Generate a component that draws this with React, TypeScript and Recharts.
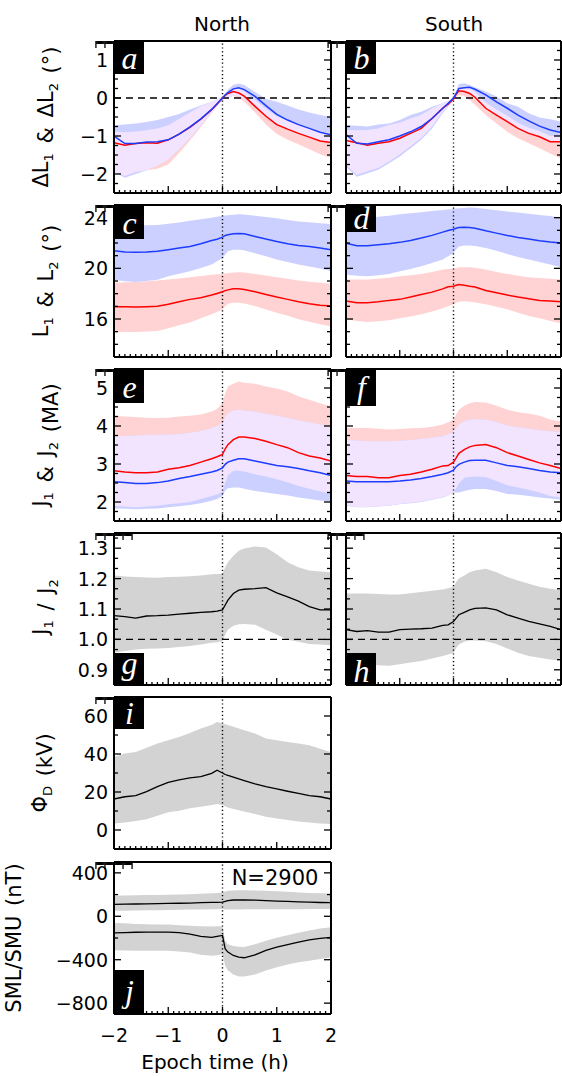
import React from "react";
import { Area, ComposedChart, Line, ReferenceLine, XAxis, YAxis } from "recharts";

// epoch time (h)
const T = [-2, -1.8, -1.6, -1.4, -1.2, -1, -0.8, -0.6, -0.4, -0.2, -0.1, 0, 0.05, 0.1, 0.2, 0.3, 0.4, 0.6, 0.8, 1, 1.2, 1.4, 1.6, 1.8, 2];

// a: North dL1 (red) / dL2 (blue)
const dlNR = [-1.18, -1.24, -1.2, -1.18, -1.19, -1.1, -0.95, -0.77, -0.56, -0.31, -0.16, 0, 0.07, 0.12, 0.17, 0.13, 0.05, -0.22, -0.48, -0.7, -0.82, -0.93, -1.03, -1.13, -1.17];
const dlNRlo = [-1.95, -2.05, -1.95, -1.9, -1.86, -1.75, -1.45, -1.12, -0.76, -0.4, -0.22, -0.05, 0, 0.02, 0.05, 0, -0.1, -0.38, -0.7, -0.95, -1.1, -1.22, -1.35, -1.48, -1.58];
const dlNRhi = [-0.88, -0.9, -0.88, -0.85, -0.8, -0.72, -0.55, -0.38, -0.22, -0.1, -0.04, 0.03, 0.1, 0.17, 0.25, 0.25, 0.18, -0.05, -0.28, -0.48, -0.6, -0.7, -0.8, -0.88, -0.92];
const dlNB = [-1.0, -1.2, -1.2, -1.16, -1.15, -1.1, -0.95, -0.76, -0.55, -0.3, -0.15, 0, 0.08, 0.14, 0.24, 0.27, 0.22, 0.04, -0.2, -0.43, -0.58, -0.7, -0.8, -0.9, -0.97];
const dlNBlo = [-1.95, -2.1, -2.0, -1.9, -1.78, -1.62, -1.35, -1.05, -0.72, -0.38, -0.2, -0.03, 0, 0.02, 0.06, 0.05, -0.03, -0.2, -0.45, -0.67, -0.8, -0.92, -1.02, -1.12, -1.18];
const dlNBhi = [-0.72, -0.7, -0.67, -0.63, -0.58, -0.5, -0.42, -0.3, -0.2, -0.1, -0.04, 0.02, 0.12, 0.22, 0.35, 0.38, 0.34, 0.16, -0.02, -0.1, -0.2, -0.3, -0.38, -0.45, -0.5];

// b: South dL1 / dL2
const dlSR = [-1.12, -1.18, -1.24, -1.19, -1.15, -1.06, -0.93, -0.8, -0.54, -0.27, -0.16, -0.03, 0.1, 0.19, 0.17, 0.12, 0.02, -0.27, -0.45, -0.62, -0.8, -0.93, -1.02, -1.15, -1.15];
const dlSRlo = [-1.76, -2.02, -1.93, -1.84, -1.67, -1.49, -1.27, -1.05, -0.75, -0.36, -0.2, -0.05, 0.03, 0.08, 0.05, -0.05, -0.18, -0.45, -0.67, -0.89, -1.06, -1.19, -1.32, -1.46, -1.59];
const dlSRhi = [-0.84, -0.85, -0.84, -0.8, -0.71, -0.65, -0.54, -0.45, -0.27, -0.14, -0.08, 0, 0.18, 0.3, 0.3, 0.26, 0.16, -0.12, -0.3, -0.47, -0.65, -0.78, -0.87, -1.0, -1.0];
const dlSB = [-0.96, -1.19, -1.21, -1.15, -1.1, -1.0, -0.89, -0.75, -0.54, -0.27, -0.14, 0, 0.12, 0.25, 0.27, 0.28, 0.23, 0.08, -0.1, -0.27, -0.45, -0.6, -0.74, -0.84, -0.91];
const dlSBlo = [-1.81, -2.07, -1.98, -1.89, -1.72, -1.54, -1.32, -1.1, -0.8, -0.4, -0.23, -0.05, 0.1, 0.2, 0.19, 0.14, 0.04, -0.25, -0.43, -0.6, -0.78, -0.91, -1.0, -1.13, -1.13];
const dlSBhi = [-0.71, -0.73, -0.75, -0.7, -0.67, -0.58, -0.45, -0.36, -0.23, -0.14, -0.08, 0, 0.2, 0.37, 0.39, 0.34, 0.28, 0.17, 0.04, -0.14, -0.23, -0.4, -0.51, -0.56, -0.62];

// c: North L1 / L2
const lNR = [16.97, 16.96, 16.95, 16.97, 17.0, 17.16, 17.37, 17.55, 17.68, 17.89, 18.02, 18.15, 18.24, 18.3, 18.38, 18.38, 18.33, 18.15, 17.94, 17.73, 17.55, 17.37, 17.21, 17.08, 17.03];
const lNRlo = [15.0, 14.98, 14.98, 15.02, 15.06, 15.27, 15.5, 15.72, 16.05, 16.37, 16.55, 16.76, 17.0, 17.2, 17.29, 17.29, 17.22, 17.03, 16.75, 16.5, 16.25, 15.98, 15.78, 15.59, 15.4];
const lNRhi = [18.86, 18.9, 18.93, 18.98, 19.04, 19.12, 19.2, 19.3, 19.4, 19.5, 19.53, 19.56, 19.6, 19.64, 19.68, 19.7, 19.68, 19.56, 19.43, 19.3, 19.17, 19.04, 18.95, 18.86, 18.78];
const lNB = [21.39, 21.29, 21.26, 21.29, 21.34, 21.47, 21.6, 21.73, 21.94, 22.2, 22.3, 22.46, 22.6, 22.65, 22.73, 22.75, 22.73, 22.52, 22.31, 22.12, 21.94, 21.81, 21.73, 21.6, 21.47];
const lNBlo = [19.1, 18.98, 18.93, 19.0, 19.1, 19.38, 19.58, 19.77, 20.02, 20.3, 20.55, 20.8, 21.1, 21.34, 21.47, 21.47, 21.42, 21.2, 20.95, 20.69, 20.5, 20.3, 20.15, 19.98, 19.77];
const lNBhi = [23.3, 23.35, 23.38, 23.4, 23.43, 23.51, 23.62, 23.75, 23.88, 24.0, 24.08, 24.16, 24.18, 24.2, 24.24, 24.27, 24.25, 24.16, 24.05, 23.95, 23.82, 23.7, 23.63, 23.56, 23.5];

// d: South L1 / L2
const lSR = [17.42, 17.29, 17.29, 17.37, 17.47, 17.55, 17.73, 17.94, 18.12, 18.38, 18.54, 18.59, 18.67, 18.72, 18.67, 18.59, 18.52, 18.25, 18.07, 17.89, 17.73, 17.6, 17.47, 17.42, 17.37];
const lSRlo = [15.98, 15.85, 15.77, 15.83, 15.9, 16.06, 16.2, 16.37, 16.6, 16.84, 17.0, 17.16, 17.28, 17.37, 17.4, 17.37, 17.3, 17.16, 16.96, 16.76, 16.5, 16.24, 16.05, 15.85, 15.67];
const lSRhi = [19.12, 19.12, 19.12, 19.18, 19.25, 19.38, 19.46, 19.56, 19.72, 19.9, 19.94, 19.98, 20.03, 20.08, 20.08, 20.08, 20.04, 19.9, 19.72, 19.56, 19.42, 19.3, 19.23, 19.17, 19.12];
const lSB = [21.99, 21.78, 21.78, 21.86, 21.94, 22.05, 22.2, 22.39, 22.6, 22.86, 22.99, 23.09, 23.17, 23.22, 23.25, 23.22, 23.17, 22.96, 22.78, 22.6, 22.44, 22.31, 22.18, 22.07, 21.99];
const lSBlo = [19.5, 19.42, 19.38, 19.45, 19.56, 19.77, 19.95, 20.16, 20.42, 20.69, 20.95, 21.2, 21.5, 21.73, 21.81, 21.81, 21.76, 21.6, 21.38, 21.13, 20.9, 20.69, 20.5, 20.3, 20.08];
const lSBhi = [23.95, 23.98, 24.0, 24.08, 24.16, 24.27, 24.35, 24.42, 24.52, 24.6, 24.65, 24.69, 24.72, 24.74, 24.77, 24.8, 24.78, 24.69, 24.58, 24.48, 24.4, 24.3, 24.22, 24.14, 24.0];

// e: North J1 / J2 (MA)
const jNR = [2.82, 2.79, 2.77, 2.77, 2.79, 2.86, 2.9, 2.96, 3.05, 3.14, 3.19, 3.25, 3.4, 3.51, 3.64, 3.71, 3.71, 3.67, 3.6, 3.51, 3.43, 3.3, 3.21, 3.16, 3.08];
const jNRlo = [1.9, 1.88, 1.86, 1.88, 1.9, 1.94, 1.97, 2.0, 2.08, 2.16, 2.2, 2.27, 2.5, 2.7, 2.82, 2.82, 2.8, 2.73, 2.67, 2.6, 2.52, 2.42, 2.35, 2.28, 2.21];
const jNRhi = [4.27, 4.25, 4.24, 4.22, 4.21, 4.22, 4.25, 4.27, 4.3, 4.38, 4.45, 4.6, 4.86, 5.04, 5.11, 5.17, 5.14, 5.11, 5.04, 4.99, 4.91, 4.78, 4.69, 4.6, 4.52];
const jNB = [2.53, 2.51, 2.49, 2.49, 2.51, 2.55, 2.62, 2.67, 2.73, 2.79, 2.83, 2.9, 2.99, 3.05, 3.1, 3.14, 3.14, 3.08, 3.02, 2.96, 2.93, 2.88, 2.82, 2.77, 2.7];
const jNBlo = [1.83, 1.82, 1.81, 1.82, 1.83, 1.86, 1.89, 1.92, 1.97, 2.03, 2.08, 2.16, 2.3, 2.36, 2.38, 2.38, 2.35, 2.29, 2.25, 2.21, 2.17, 2.12, 2.08, 2.04, 2.01];
const jNBhi = [3.73, 3.74, 3.75, 3.76, 3.77, 3.77, 3.79, 3.82, 3.87, 3.95, 4.0, 4.08, 4.25, 4.34, 4.41, 4.43, 4.41, 4.38, 4.32, 4.27, 4.21, 4.15, 4.1, 4.04, 4.01];

// f: South J1 / J2 (MA)
const jSR = [2.7, 2.67, 2.67, 2.64, 2.64, 2.7, 2.73, 2.79, 2.86, 2.95, 2.96, 3.05, 3.16, 3.28, 3.38, 3.45, 3.49, 3.51, 3.43, 3.3, 3.21, 3.12, 3.03, 2.96, 2.88];
const jSRlo = [1.91, 1.87, 1.87, 1.89, 1.91, 1.95, 1.98, 2.01, 2.07, 2.13, 2.18, 2.26, 2.36, 2.49, 2.64, 2.66, 2.67, 2.66, 2.55, 2.44, 2.38, 2.32, 2.25, 2.16, 2.12];
const jSRhi = [3.95, 3.95, 3.95, 3.93, 3.91, 3.92, 3.94, 3.95, 3.98, 4.04, 4.1, 4.17, 4.3, 4.43, 4.53, 4.6, 4.63, 4.62, 4.53, 4.43, 4.36, 4.33, 4.27, 4.17, 4.12];
const jSB = [2.55, 2.53, 2.53, 2.53, 2.53, 2.55, 2.58, 2.62, 2.67, 2.73, 2.77, 2.84, 2.93, 2.99, 3.05, 3.09, 3.1, 3.1, 3.03, 2.96, 2.93, 2.88, 2.83, 2.79, 2.77];
const jSBlo = [1.9, 1.86, 1.86, 1.88, 1.9, 1.94, 1.97, 2.0, 2.06, 2.12, 2.17, 2.25, 2.25, 2.25, 2.29, 2.32, 2.34, 2.34, 2.29, 2.21, 2.19, 2.16, 2.12, 2.09, 2.06];
const jSBhi = [3.64, 3.62, 3.6, 3.6, 3.6, 3.61, 3.63, 3.66, 3.7, 3.73, 3.78, 3.86, 3.95, 4.04, 4.12, 4.17, 4.18, 4.17, 4.1, 4.01, 3.97, 3.93, 3.89, 3.86, 3.84];

// g, h: J1 / J2
const rN = [1.078, 1.075, 1.07, 1.077, 1.078, 1.08, 1.083, 1.086, 1.089, 1.091, 1.093, 1.097, 1.113, 1.129, 1.151, 1.162, 1.165, 1.167, 1.17, 1.153, 1.14, 1.126, 1.108, 1.097, 1.097];
const rNlo = [0.956, 0.962, 0.967, 0.969, 0.97, 0.972, 0.975, 0.978, 0.983, 0.989, 0.991, 0.994, 1.016, 1.032, 1.045, 1.05, 1.051, 1.048, 1.032, 1.016, 0.999, 0.992, 0.985, 0.983, 0.981];
const rNhi = [1.21, 1.207, 1.205, 1.204, 1.203, 1.205, 1.206, 1.208, 1.21, 1.214, 1.215, 1.216, 1.237, 1.254, 1.275, 1.292, 1.299, 1.306, 1.302, 1.28, 1.254, 1.237, 1.227, 1.223, 1.221];
const rS = [1.032, 1.026, 1.029, 1.024, 1.024, 1.032, 1.034, 1.035, 1.037, 1.046, 1.048, 1.059, 1.07, 1.081, 1.089, 1.097, 1.102, 1.104, 1.097, 1.081, 1.07, 1.059, 1.051, 1.043, 1.032];
const rSlo = [0.929, 0.924, 0.918, 0.915, 0.913, 0.918, 0.924, 0.929, 0.937, 0.945, 0.95, 0.956, 0.972, 0.983, 0.992, 0.996, 0.996, 0.994, 0.985, 0.97, 0.956, 0.945, 0.94, 0.934, 0.931];
const rShi = [1.151, 1.151, 1.151, 1.149, 1.148, 1.148, 1.152, 1.156, 1.16, 1.164, 1.168, 1.173, 1.189, 1.2, 1.21, 1.221, 1.227, 1.232, 1.221, 1.205, 1.194, 1.183, 1.173, 1.167, 1.162];

// i: Phi_D (kV)
const phi = [16.3, 17.5, 18.1, 20.2, 22.8, 25.1, 26.4, 27.4, 28.1, 29.8, 31.5, 30.0, 29.2, 28.7, 27.8, 26.9, 26.0, 24.3, 22.8, 21.6, 20.4, 19.3, 18.1, 17.5, 16.3];
const phiLo = [3.4, 4.0, 4.8, 5.7, 7.5, 9.3, 10.1, 11.5, 12.3, 13.1, 13.7, 13.1, 12.5, 11.9, 11.0, 10.4, 9.8, 8.4, 7.0, 6.1, 5.2, 4.5, 4.0, 3.4, 3.1];
const phiHi = [38.4, 40.2, 41.0, 43.3, 45.5, 47.2, 49.0, 51.1, 53.4, 55.2, 56.9, 56.0, 55.6, 55.2, 54.3, 53.4, 52.5, 50.8, 48.1, 47.2, 46.3, 45.5, 44.6, 42.8, 41.0];

// j: SMU / SML (nT)
const smu = [110, 112, 113, 115, 116, 118, 120, 122, 125, 128, 129, 130, 138, 145, 150, 150, 150, 148, 145, 140, 137, 133, 130, 127, 125];
const smuLo = [50, 52, 53, 55, 56, 58, 60, 62, 63, 64, 65, 66, 62, 62, 62, 63, 64, 64, 64, 64, 65, 65, 66, 67, 68];
const smuHi = [190, 192, 193, 195, 197, 198, 200, 203, 207, 212, 215, 218, 228, 235, 238, 240, 240, 238, 235, 230, 225, 220, 215, 212, 210];
const sml = [-152, -150, -147, -145, -145, -145, -150, -164, -185, -194, -185, -176, -300, -330, -361, -376, -382, -355, -315, -285, -261, -239, -218, -203, -194];
const smlLo = [-312, -315, -318, -318, -318, -318, -325, -333, -355, -364, -358, -348, -455, -500, -536, -555, -555, -536, -500, -470, -445, -424, -409, -394, -379];
const smlHi = [-61, -65, -70, -73, -75, -76, -82, -88, -91, -93, -92, -91, -227, -258, -273, -280, -282, -258, -225, -197, -175, -152, -130, -112, -100];

// tick labels
const xTicks = [-2, -1, 0, 1, 2];
const xTickLabels = ["\u22122", "\u22121", "0", "1", "2"];
const dlTicks = [-2, -1, 0, 1];
const dlTickLabels = ["\u22122", "\u22121", "0", "1"];
const lTicks = [16, 20, 24];
const lTickLabels = ["16", "20", "24"];
const jTicks = [2, 3, 4, 5];
const jTickLabels = ["2", "3", "4", "5"];
const rTicks = [0.9, 1.0, 1.1, 1.2, 1.3];
const rTickLabels = ["0.9", "1.0", "1.1", "1.2", "1.3"];
const phiTicks = [0, 20, 40, 60];
const phiTickLabels = ["0", "20", "40", "60"];
const smTicks = [-800, -400, 0, 400];
const smTickLabels = ["\u2212800", "\u2212400", "0", "400"];

const RED = "#ff0000";
const BLUE = "#1c3cff";
const PINK = "#ffd3d3";
const LBLUE = "#ccd0ff";
const LAV = "#f2e4ff";
const GRAY = "#d3d3d3";
const FONT = "DejaVu Sans, Verdana, sans-serif";
const SERIF = "Liberation Serif, DejaVu Serif, serif";

const steps = (lo: number, hi: number, step: number) => {
  const out: number[] = [];
  for (let k = Math.ceil(lo / step - 1e-9); k * step <= hi + 1e-9; k++) out.push(+(k * step).toFixed(6));
  return out;
};

const overlap = (lo1: number[], hi1: number[], lo2: number[], hi2: number[]) => {
  const lo = lo1.map((v, i) => Math.max(v, lo2[i]));
  const hi = hi1.map((v, i) => Math.max(lo[i], Math.min(v, hi2[i])));
  return { lo, hi, fill: LAV };
};

type BandCfg = { lo: number[]; hi: number[]; fill: string };
type LineCfg = { m: number[]; c: string; w: number };
type PanelCfg = {
  x: number;
  y: number;
  w: number;
  h: number;
  dom: [number, number];
  major: number[];
  majorLabels: string[];
  minor: number;
  showLabels: boolean;
  bands: BandCfg[];
  lines: LineCfg[];
  hLine?: number;
  xLabels?: boolean;
};

const NX = 114;
const NW = 217;
const SX = 346;
const SW = 215;
const H = 152;
const TOPS = [41, 205, 369, 533, 697, 862];

const redBlue = (rlo: number[], rhi: number[], blo: number[], bhi: number[]): BandCfg[] => [
  { lo: rlo, hi: rhi, fill: PINK },
  { lo: blo, hi: bhi, fill: LBLUE },
  overlap(rlo, rhi, blo, bhi),
];

const panels: PanelCfg[] = [
  {
    x: NX, y: TOPS[0], w: NW, h: H, dom: [-2.5, 1.5], major: dlTicks, majorLabels: dlTickLabels, minor: 0.25, showLabels: true,
    bands: redBlue(dlNRlo, dlNRhi, dlNBlo, dlNBhi),
    lines: [{ m: dlNR, c: RED, w: 1.5 }, { m: dlNB, c: BLUE, w: 1.5 }],
    hLine: 0,
  },
  {
    x: SX, y: TOPS[0], w: SW, h: H, dom: [-2.5, 1.5], major: dlTicks, majorLabels: dlTickLabels, minor: 0.25, showLabels: false,
    bands: redBlue(dlSRlo, dlSRhi, dlSBlo, dlSBhi),
    lines: [{ m: dlSR, c: RED, w: 1.5 }, { m: dlSB, c: BLUE, w: 1.5 }],
    hLine: 0,
  },
  {
    x: NX, y: TOPS[1], w: NW, h: H, dom: [13, 25], major: lTicks, majorLabels: lTickLabels, minor: 1, showLabels: true,
    bands: redBlue(lNRlo, lNRhi, lNBlo, lNBhi),
    lines: [{ m: lNR, c: RED, w: 1.5 }, { m: lNB, c: BLUE, w: 1.5 }],
  },
  {
    x: SX, y: TOPS[1], w: SW, h: H, dom: [13, 25], major: lTicks, majorLabels: lTickLabels, minor: 1, showLabels: false,
    bands: redBlue(lSRlo, lSRhi, lSBlo, lSBhi),
    lines: [{ m: lSR, c: RED, w: 1.5 }, { m: lSB, c: BLUE, w: 1.5 }],
  },
  {
    x: NX, y: TOPS[2], w: NW, h: H, dom: [1.5, 5.5], major: jTicks, majorLabels: jTickLabels, minor: 0.25, showLabels: true,
    bands: redBlue(jNRlo, jNRhi, jNBlo, jNBhi),
    lines: [{ m: jNR, c: RED, w: 1.5 }, { m: jNB, c: BLUE, w: 1.5 }],
  },
  {
    x: SX, y: TOPS[2], w: SW, h: H, dom: [1.5, 5.5], major: jTicks, majorLabels: jTickLabels, minor: 0.25, showLabels: false,
    bands: redBlue(jSRlo, jSRhi, jSBlo, jSBhi),
    lines: [{ m: jSR, c: RED, w: 1.5 }, { m: jSB, c: BLUE, w: 1.5 }],
  },
  {
    x: NX, y: TOPS[3], w: NW, h: H, dom: [0.85, 1.35], major: rTicks, majorLabels: rTickLabels, minor: 1 / 30, showLabels: true,
    bands: [{ lo: rNlo, hi: rNhi, fill: GRAY }],
    lines: [{ m: rN, c: "#000", w: 1.3 }],
    hLine: 1,
  },
  {
    x: SX, y: TOPS[3], w: SW, h: H, dom: [0.85, 1.35], major: rTicks, majorLabels: rTickLabels, minor: 1 / 30, showLabels: false,
    bands: [{ lo: rSlo, hi: rShi, fill: GRAY }],
    lines: [{ m: rS, c: "#000", w: 1.3 }],
    hLine: 1,
  },
  {
    x: NX, y: TOPS[4], w: NW, h: H, dom: [-10, 70], major: phiTicks, majorLabels: phiTickLabels, minor: 10, showLabels: true,
    bands: [{ lo: phiLo, hi: phiHi, fill: GRAY }],
    lines: [{ m: phi, c: "#000", w: 1.3 }],
  },
  {
    x: NX, y: TOPS[5], w: NW, h: H, dom: [-900, 500], major: smTicks, majorLabels: smTickLabels, minor: 200, showLabels: true,
    bands: [{ lo: smuLo, hi: smuHi, fill: GRAY }, { lo: smlLo, hi: smlHi, fill: GRAY }],
    lines: [{ m: smu, c: "#000", w: 1.3 }, { m: sml, c: "#000", w: 1.3 }],
    xLabels: true,
  },
];

const near = (a: number, b: number) => Math.abs(a - b) < 1e-6;

function Panel({ p }: { p: PanelCfg }) {
  const bottomH = p.xLabels ? 60 : 1;
  const rows = T.map((t, i) => {
    const r: Record<string, unknown> = { t };
    p.bands.forEach((b, k) => (r["b" + k] = [b.lo[i], b.hi[i]]));
    p.lines.forEach((l, k) => (r["m" + k] = l.m[i]));
    return r;
  });
  const yTicks = steps(p.dom[0], p.dom[1], p.minor).filter((v) => v > p.dom[0] + 1e-6 && v < p.dom[1] - 1e-6);
  const xMinor = steps(-2, 2, 0.1);
  const majIdx = (v: number) => p.major.findIndex((m) => near(m, v));
  const xMaj = (v: number) => xTicks.findIndex((m) => near(m, v));

  const leftTick = (props: any) => {
    const { x, y, payload } = props;
    const k = majIdx(payload.value);
    return (
      <g>
        <line x1={x} x2={x + (k >= 0 ? 7 : 4)} y1={y} y2={y} stroke="#000" strokeWidth={1.3} />
        {k >= 0 && p.showLabels && (
          <text x={x - 6} y={y} dy={7} textAnchor="end" fontSize={19} fontFamily={FONT} fill="#000">
            {p.majorLabels[k]}
          </text>
        )}
      </g>
    );
  };
  const rightTick = (props: any) => {
    const { x, y, payload } = props;
    const k = majIdx(payload.value);
    return <line x1={x} x2={x - (k >= 0 ? 7 : 4)} y1={y} y2={y} stroke="#000" strokeWidth={1.3} />;
  };
  const bottomTick = (props: any) => {
    const { x, y, payload } = props;
    const k = xMaj(payload.value);
    return (
      <g>
        <line x1={x} x2={x} y1={y} y2={y - (k >= 0 ? 7 : 3)} stroke="#000" strokeWidth={1.3} />
        {k >= 0 && p.xLabels && (
          <text x={x} y={y + 28} textAnchor="middle" fontSize={19} fontFamily={FONT} fill="#000">
            {xTickLabels[k]}
          </text>
        )}
      </g>
    );
  };
  const topTick = (props: any) => {
    const { x, y, payload } = props;
    const k = xMaj(payload.value);
    return <line x1={x} x2={x} y1={y} y2={y + (k >= 0 ? 7 : 3)} stroke="#000" strokeWidth={1.3} />;
  };
  const axisLine = { stroke: "#000", strokeWidth: 2 };

  return (
    <div style={{ position: "absolute", left: p.x - 70, top: p.y - 5 }}>
      <ComposedChart
        width={p.w + 75}
        height={p.h + 9 + bottomH}
        data={rows}
        margin={{ top: 4, right: 4, bottom: 4, left: 0 }}
      >
        {p.bands.map((b, k) => (
          <Area
            key={"b" + k}
            xAxisId="b"
            yAxisId="l"
            type="linear"
            dataKey={"b" + k}
            stroke="none"
            fill={b.fill}
            fillOpacity={1}
            dot={false}
            activeDot={false}
            isAnimationActive={false}
          />
        ))}
        <ReferenceLine xAxisId="b" yAxisId="l" x={0} stroke="#000" strokeWidth={1.4} strokeDasharray="1.2 2.6" />
        {p.hLine !== undefined && (
          <ReferenceLine xAxisId="b" yAxisId="l" y={p.hLine} stroke="#000" strokeWidth={1.4} strokeDasharray="7 5" />
        )}
        {p.lines.map((l, k) => (
          <Line
            key={"m" + k}
            xAxisId="b"
            yAxisId="l"
            type="linear"
            dataKey={"m" + k}
            stroke={l.c}
            strokeWidth={l.w}
            dot={false}
            activeDot={false}
            isAnimationActive={false}
          />
        ))}
        <XAxis
          xAxisId="b"
          type="number"
          dataKey="t"
          domain={[-2, 2]}
          allowDataOverflow
          ticks={xMinor}
          interval={0}
          height={bottomH}
          tickSize={0}
          tickMargin={0}
          tickLine={false}
          axisLine={axisLine}
          tick={bottomTick}
        />
        <XAxis
          xAxisId="t"
          orientation="top"
          type="number"
          domain={[-2, 2]}
          allowDataOverflow
          ticks={xMinor}
          interval={0}
          height={1}
          tickSize={0}
          tickMargin={0}
          tickLine={false}
          axisLine={axisLine}
          tick={topTick}
        />
        <YAxis
          yAxisId="l"
          type="number"
          domain={p.dom}
          allowDataOverflow
          ticks={yTicks}
          interval={0}
          width={70}
          tickSize={0}
          tickMargin={0}
          tickLine={false}
          axisLine={axisLine}
          tick={leftTick}
        />
        <YAxis
          yAxisId="r"
          orientation="right"
          type="number"
          domain={p.dom}
          allowDataOverflow
          ticks={yTicks}
          interval={0}
          width={1}
          tickSize={0}
          tickMargin={0}
          tickLine={false}
          axisLine={axisLine}
          tick={rightTick}
        />
      </ComposedChart>
    </div>
  );
}

type Letter = { ch: string; x: number; y: number; h: number; base: number };
const letters: Letter[] = [
  { ch: "a", x: NX, y: TOPS[0], h: 32, base: 27 },
  { ch: "b", x: SX, y: TOPS[0], h: 32, base: 27 },
  { ch: "c", x: NX, y: TOPS[1], h: 33, base: 28 },
  { ch: "d", x: SX, y: TOPS[1], h: 26, base: 23 },
  { ch: "e", x: NX, y: TOPS[2], h: 33, base: 28 },
  { ch: "f", x: SX, y: TOPS[2], h: 36, base: 28 },
  { ch: "g", x: NX, y: TOPS[3] + H - 33, h: 33, base: 21 },
  { ch: "h", x: SX, y: TOPS[3] + H - 33, h: 33, base: 29 },
  { ch: "i", x: NX, y: TOPS[4], h: 31, base: 26 },
  { ch: "j", x: NX, y: TOPS[5] + H - 45, h: 45, base: 32 },
];

const Sub = ({ children }: { children: React.ReactNode }) => (
  <>
    <tspan fontSize={13} dy={5}>{children}</tspan>
    <tspan dy={-5}>{""}</tspan>
  </>
);

function YLabel({ cx, cy, children }: { cx: number; cy: number; children: React.ReactNode }) {
  return (
    <text
      transform={`translate(${cx},${cy}) rotate(-90)`}
      x={0}
      y={7}
      textAnchor="middle"
      fontSize={21}
      fontFamily={FONT}
      fill="#000"
      wordSpacing={3}
    >
      {children}
    </text>
  );
}

export default function App() {
  return (
    <div style={{ position: "absolute", left: 0, top: 0, width: 562, height: 1076, background: "#fff", overflow: "hidden" }}>
      {panels.map((p, i) => (
        <Panel key={i} p={p} />
      ))}
      <svg width={562} height={1076} style={{ position: "absolute", left: 0, top: 0, pointerEvents: "none" }}>
        <text x={222} y={31} textAnchor="middle" fontSize={20} fontFamily={FONT}>North</text>
        <text x={454} y={31} textAnchor="middle" fontSize={20} fontFamily={FONT}>South</text>

        <YLabel cx={41} cy={117}>
          {"\u0394L"}<Sub>1</Sub>{" & \u0394L"}<Sub>2</Sub>{" (\u00b0)"}
        </YLabel>
        <YLabel cx={41} cy={281}>
          {"L"}<Sub>1</Sub>{" & L"}<Sub>2</Sub>{" (\u00b0)"}
        </YLabel>
        <YLabel cx={41} cy={445}>
          {"J"}<Sub>1</Sub>{" & J"}<Sub>2</Sub>{" (MA)"}
        </YLabel>
        <YLabel cx={41} cy={607}>
          {"J"}<Sub>1</Sub>{" / J"}<Sub>2</Sub>
        </YLabel>
        <YLabel cx={40} cy={773}>
          {"\u03a6"}<Sub>D</Sub>{" (kV)"}
        </YLabel>
        <YLabel cx={14} cy={938}>
          {"SML/SMU (nT)"}
        </YLabel>

        <text x={275} y={885} textAnchor="middle" fontSize={21} fontFamily={FONT}>N=2900</text>
        <text x={215} y={1069} textAnchor="middle" fontSize={20} fontFamily={FONT}>Epoch time (h)</text>

        {letters.map((l) => (
          <g key={l.ch}>
            <rect x={l.x + 1} y={l.y + 1} width={29} height={l.h} fill="#000" />
            <text
              x={l.x + 15.5}
              y={l.y + 1 + l.base}
              textAnchor="middle"
              fontSize={32}
              fontStyle="italic"
              fontFamily={SERIF}
              fill="#fff"
            >
              {l.ch}
            </text>
          </g>
        ))}
      </svg>
    </div>
  );
}
